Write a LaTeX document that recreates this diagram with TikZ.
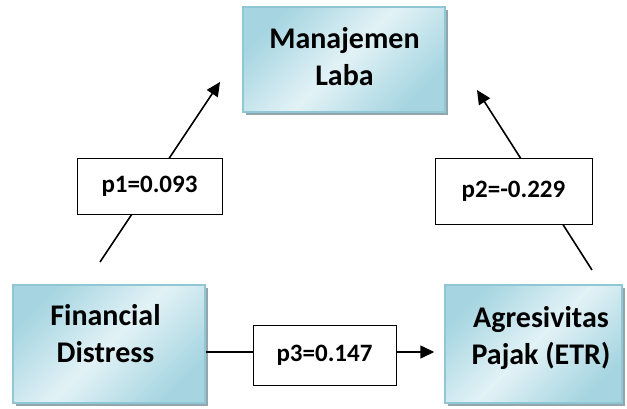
\documentclass[tikz,border=0pt]{standalone}
\usepackage{fontspec}
\setmainfont{Carlito}
\usetikzlibrary{positioning, arrows.meta, shadows}
\definecolor{BoxEdge}{HTML}{8FC7D4}
\definecolor{BoxLight}{HTML}{E2F2F6}
\definecolor{BoxDeep}{HTML}{A6D5E1}
\definecolor{ShadowGrey}{HTML}{93A6AB}

\begin{document}
\begin{tikzpicture}[x=1pt, y=-1pt,
    varbox/.style={draw=BoxEdge, line width=1.5pt, left color=BoxDeep, right color=BoxDeep,
        middle color=BoxLight, shading angle=45,
        drop shadow={shadow xshift=3pt, shadow yshift=-3pt, fill=ShadowGrey, opacity=1}},
    vartext/.style={font=\fontsize{30}{37}\selectfont\bfseries, align=center, inner sep=0pt},
    coefbox/.style={draw, line width=1pt, fill=white, font=\fontsize{25}{30}\selectfont\bfseries, inner sep=0pt},
    effect/.style={-{Triangle[length=14pt,width=13pt]}, line width=1.6pt}]
    \useasboundingbox (0,0) rectangle (627,408);

    % Variables
    \node[varbox, minimum width=202pt, minimum height=105pt] (ml) at (344,59.5) {};
    \node[varbox, minimum width=192pt, minimum height=118pt] (fd) at (109,344) {};
    \node[varbox, minimum width=177pt, minimum height=118pt] (etr) at (533.5,344) {};
    \node[vartext] (mltext) at (344.5,56.5) {Manajemen\\Laba};
    \node[vartext] (fdtext) at (105.5,333.5) {Financial\\Distress};
    \node[vartext] (etrtext) at (541,338) {Agresivitas\\Pajak (ETR)};

    % Paths
    \coordinate (p1from) at (100,262);
    \coordinate (p1to) at (220,82);
    \coordinate (p2from) at (592,270);
    \coordinate (p2to) at (477,90);
    \draw[effect] (p1from) -- (p1to);
    \draw[effect] (p2from) -- (p2to);
    \draw[effect] ([yshift=-8pt]fd.east) -- ([yshift=-8pt, xshift=-10pt]etr.west);

    % Coefficients
    \node[coefbox, minimum width=145pt, minimum height=56pt] (c1) at (149.5,186) {p1=0.093};
    \node[coefbox, minimum width=157pt, minimum height=66pt] (c2) at (513.5,191) {p2=-0.229};
    \node[coefbox, minimum width=143pt, minimum height=60pt] (c3) at (324.5,355) {p3=0.147};
\end{tikzpicture}
\end{document}
